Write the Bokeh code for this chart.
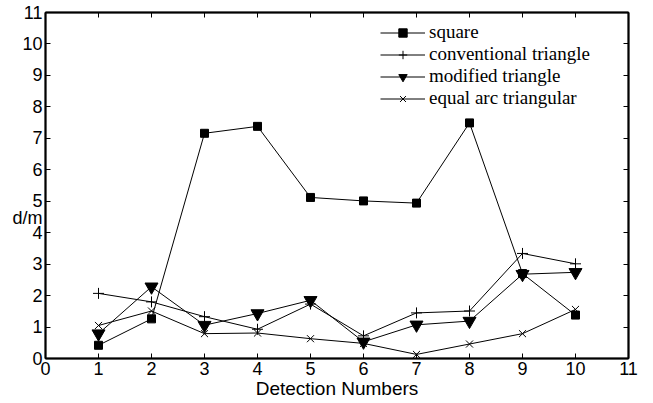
from bokeh.plotting import figure
from bokeh.models import Range1d, FixedTicker, LinearAxis, Legend, PrintfTickFormatter
from bokeh.embed import file_html
from bokeh.resources import INLINE

# ---- data ----
detections = [1, 2, 3, 4, 5, 6, 7, 8, 9, 10]
square = [0.42, 1.26, 7.16, 7.38, 5.12, 5.01, 4.94, 7.49, 2.70, 1.38]
conventional_triangle = [2.07, 1.80, 1.33, 0.93, 1.73, 0.72, 1.45, 1.51, 3.34, 3.01]
modified_triangle = [0.79, 2.28, 1.06, 1.43, 1.85, 0.53, 1.07, 1.19, 2.68, 2.74]
equal_arc_triangular = [1.05, 1.51, 0.79, 0.81, 0.63, 0.48, 0.13, 0.46, 0.79, 1.56]
tick_values = list(range(0, 12))
tick_labels = [str(t) for t in tick_values]
x_title = "Detection Numbers"
y_title = "d/m"
y_title_at = 4.46   # where the reference prints "d/m" beside the y axis

SANS = "Liberation Sans"
SERIF = "'Liberation Serif', 'Times New Roman', Times, serif"

p = figure(width=653, height=403, output_backend="svg", toolbar_location=None,
           x_range=Range1d(0, 11), y_range=Range1d(0, 11),
           min_border_left=45, min_border_right=25, min_border_top=12, min_border_bottom=45,
           x_axis_type=None, y_axis_type=None)
p.xgrid.visible = False
p.ygrid.visible = False
p.background_fill_color = "white"
p.border_fill_color = "white"
p.outline_line_color = "black"
p.outline_line_width = 1.5


def style_axis(ax, show_labels):
    ax.major_tick_in = 5
    ax.major_tick_out = 0
    ax.minor_tick_in = 0
    ax.minor_tick_out = 0
    ax.axis_line_width = 2
    ax.axis_line_color = "black"
    ax.major_tick_line_color = "black"
    ax.major_tick_line_width = 1
    if show_labels:
        ax.major_label_text_font = SANS
        ax.major_label_text_font_size = "18px"
        ax.major_label_text_color = "black"
    else:
        ax.major_label_text_font_size = "0px"
        ax.major_label_text_color = None
    return ax


bottom = style_axis(LinearAxis(ticker=FixedTicker(ticks=tick_values)), True)
bottom.major_label_standoff = 3
bottom.formatter = PrintfTickFormatter(format="%d")
bottom.axis_label = x_title
bottom.axis_label_text_font = SANS
bottom.axis_label_text_font_size = "19px"
bottom.axis_label_text_font_style = "normal"
bottom.axis_label_text_color = "black"
bottom.axis_label_standoff = 0

# left axis: labels on major ticks (incl. the "d/m" caption), tick marks drawn as minor ticks
left = style_axis(LinearAxis(ticker=FixedTicker(ticks=tick_values + [y_title_at],
                                                minor_ticks=tick_values)), True)
left.major_tick_in = 0
left.major_tick_line_color = None
left.minor_tick_in = 5
left.minor_tick_out = 0
left.minor_tick_line_color = "black"
left.minor_tick_line_width = 1
left.major_label_standoff = 3
left.formatter = PrintfTickFormatter(format="%d")
overrides = {t: lab for t, lab in zip(tick_values, tick_labels)}
overrides[y_title_at] = y_title
left.major_label_overrides = overrides

top = style_axis(LinearAxis(ticker=FixedTicker(ticks=tick_values)), False)
right = style_axis(LinearAxis(ticker=FixedTicker(ticks=tick_values)), False)
p.add_layout(bottom, "below")
p.add_layout(left, "left")
p.add_layout(top, "above")
p.add_layout(right, "right")

r1 = p.line(detections, square, line_color="black", line_width=1)
m1 = p.scatter(detections, square, marker="square", size=8, fill_color="black", line_color="black")
r2 = p.line(detections, conventional_triangle, line_color="black", line_width=1)
m2 = p.scatter(detections, conventional_triangle, marker="cross", size=11, line_color="black", line_width=1)
r3 = p.line(detections, modified_triangle, line_color="black", line_width=1)
m3 = p.scatter(detections, modified_triangle, marker="inverted_triangle", size=13, fill_color="black", line_color="black")
r4 = p.line(detections, equal_arc_triangular, line_color="black", line_width=1)
m4 = p.scatter(detections, equal_arc_triangular, marker="x", size=10, line_color="black", line_width=1)

legend = Legend(items=[
    ("square", [r1, m1]),
    ("conventional triangle", [r2, m2]),
    ("modified triangle", [r3, m3]),
    ("equal arc triangular", [r4, m4]),
], location=(335, 249))
legend.label_text_font = SERIF
legend.label_text_font_size = "19px"
legend.label_text_color = "black"
legend.glyph_width = 45
legend.glyph_height = 21
legend.label_height = 21
legend.label_standoff = 4
legend.spacing = 0
legend.padding = 0
legend.margin = 0
legend.border_line_color = None
legend.background_fill_alpha = 0
p.add_layout(legend, "center")

open("out.html", "w").write(file_html(p, INLINE))
